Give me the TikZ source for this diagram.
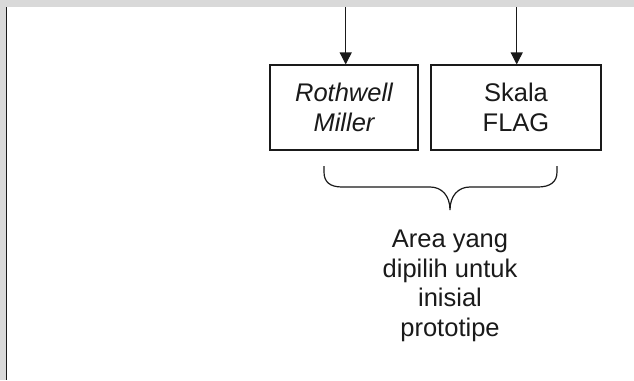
\documentclass[tikz,border=0pt]{standalone}
\usepackage{fontspec}
\setmainfont{Liberation Sans}
\usetikzlibrary{arrows.meta}
\definecolor{band}{HTML}{D9D9D9}
\definecolor{ink}{HTML}{1A1A1A}
\begin{document}
\begin{tikzpicture}[x=1pt,y=-1pt,
  boxnode/.style={draw=ink, line width=1.2pt, rectangle, inner sep=0pt, minimum height=85pt, align=center, text=ink, font=\fontsize{25.5}{30}\selectfont},
  conn/.style={draw=ink, line width=1.2pt, -{Triangle[width=12pt,length=12pt]}},
  txt/.style={align=center, text=ink, font=\fontsize{25.5}{29.5}\selectfont}]
\useasboundingbox (0,0) rectangle (634,380);
\fill[white] (0,0) rectangle (634,380);
\fill[band] (0,0) rectangle (634,7);
\fill[band] (0,0) rectangle (5.5,380);
\coordinate (lt) at (6.3,7);
\coordinate (lb) at (6.3,380);
\draw[ink, line width=1.4pt] (lt) -- (lb);
\node[boxnode, minimum width=148pt] (rm) at (344,107.5) {\itshape Rothwell\\\itshape Miller};
\node[boxnode, minimum width=170pt] (sf) at (516,107.5) {Skala\\FLAG};
\coordinate (s1) at (345.7,7);
\coordinate (s2) at (516.7,7);
\draw[conn] (s1) -- (s1 |- rm.north);
\draw[conn] (s2) -- (s2 |- sf.north);
\coordinate (bl) at (324,166);
\coordinate (bt) at (450,210);
\coordinate (br) at (557,166);
\draw[ink, line width=1.2pt] (bl) -- (324,172) .. controls (324,182) and (330,187) .. (342,187) -- (430,187) .. controls (442,187) and (450,196) .. (bt) .. controls (450,196) and (458,187) .. (470,187) -- (538,187) .. controls (550,187) and (557,182) .. (557,172) -- (br);
\node[txt, anchor=base] (area) at (450,336) {Area yang\\dipilih untuk\\inisial\\prototipe};
\end{tikzpicture}
\end{document}
